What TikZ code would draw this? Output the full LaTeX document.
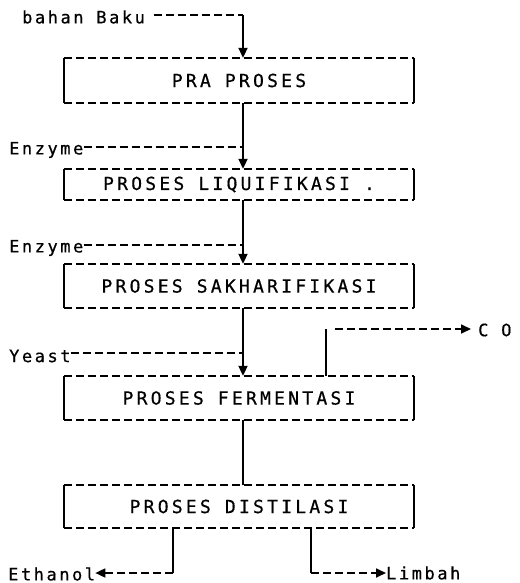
\documentclass[tikz,border=0pt]{standalone}
\usepackage{fontspec}
\newfontfamily\dotfont{DejaVu Sans Mono}[LetterSpace=15,FakeBold=0.6]
\newfontfamily\boxfont{DejaVu Sans Mono}[LetterSpace=18,FakeBold=0.6]
\usetikzlibrary{arrows.meta}
\begin{document}
\begin{tikzpicture}[x=1pt,y=-1pt,
  lbl/.style={font=\dotfont\fontsize{17}{19}\selectfont, inner sep=0pt},
  procbox/.style={font=\boxfont\fontsize{18}{20}\selectfont, inner sep=0pt, minimum width=350pt, minimum height=#1},
  dline/.style={line width=1.7pt, dash pattern=on 8pt off 4pt},
  sline/.style={line width=2pt},
  sideline/.style={line width=1.8pt},
  tip/.style={-{Triangle[length=10pt,width=9pt]}},
  ]
\useasboundingbox (0,0) rectangle (519,583);

% process boxes
\node[procbox=45pt] (b1) at (239,80.5) {PRA PROSES};
\node[procbox=31pt] (b2) at (239,184.5) {PROSES LIQUIFIKASI .};
\node[procbox=44pt] (b3) at (239,286) {PROSES SAKHARIFIKASI};
\node[procbox=44pt] (b4) at (239,398) {PROSES FERMENTASI};
\node[procbox=43pt] (b5) at (239,506.5) {PROSES DISTILASI};
\foreach \b in {b1,b2,b3,b4,b5}{
  \draw[dline] (\b.north west) -- (\b.north east);
  \draw[dline] (\b.south west) -- (\b.south east);
  \draw[sideline] (\b.north west) -- (\b.south west);
  \draw[sideline] (\b.north east) -- (\b.south east);
}

% input labels
\node[lbl,anchor=west] (bb) at (22,17) {bahan Baku};
\node[lbl,anchor=west] (enz1) at (9,150) {Enzyme};
\node[lbl,anchor=west] (enz2) at (9,248) {Enzyme};
\node[lbl,anchor=west] (yst) at (9,356) {Yeast};
\node[lbl,anchor=west] (co) at (478,330) {C O};
\node[lbl,anchor=west] (eth) at (8,574) {Ethanol};
\node[lbl,anchor=west] (limb) at (386,573) {Limbah};

% junction coordinates
\coordinate (bbk) at (243,15);
\coordinate (e1) at (243,147);
\coordinate (e2) at (243,245);
\coordinate (ys) at (243,353);
\coordinate (ax) at (243,0);
\coordinate (co1) at (326,329);
\coordinate (et) at (173,573);
\coordinate (lb) at (311,573);

% main flow
\draw[dline] ([xshift=9pt]bb.east |- bbk) -- (bbk);
\draw[sline,tip] (bbk) -- (b1.north -| bbk);
\draw[dline] (enz1.east |- e1) -- (e1);
\draw[sline,tip] (b1.south -| e1) -- (b2.north -| e1);
\draw[dline] (enz2.east |- e2) -- (e2);
\draw[sline,tip] (b2.south -| e2) -- (b3.north -| e2);
\draw[dline] (yst.east |- ys) -- (ys);
\draw[sline,tip] (b3.south -| ys) -- (b4.north -| ys);
\draw[sline] (b4.south -| ax) -- (b5.north -| ax);

% CO branch
\draw[sline] (b4.north -| co1) -- (co1);
\draw[dline,tip] ([xshift=9pt]co1) -- ([xshift=-7pt]co.west |- co1);

% outputs
\draw[sline] (b5.south -| et) -- (et);
\draw[dline,tip] (et) -- (eth.east |- et);
\draw[sline] (b5.south -| lb) -- (lb);
\draw[dline,tip] (lb) -- (limb.west |- lb);
\end{tikzpicture}
\end{document}
